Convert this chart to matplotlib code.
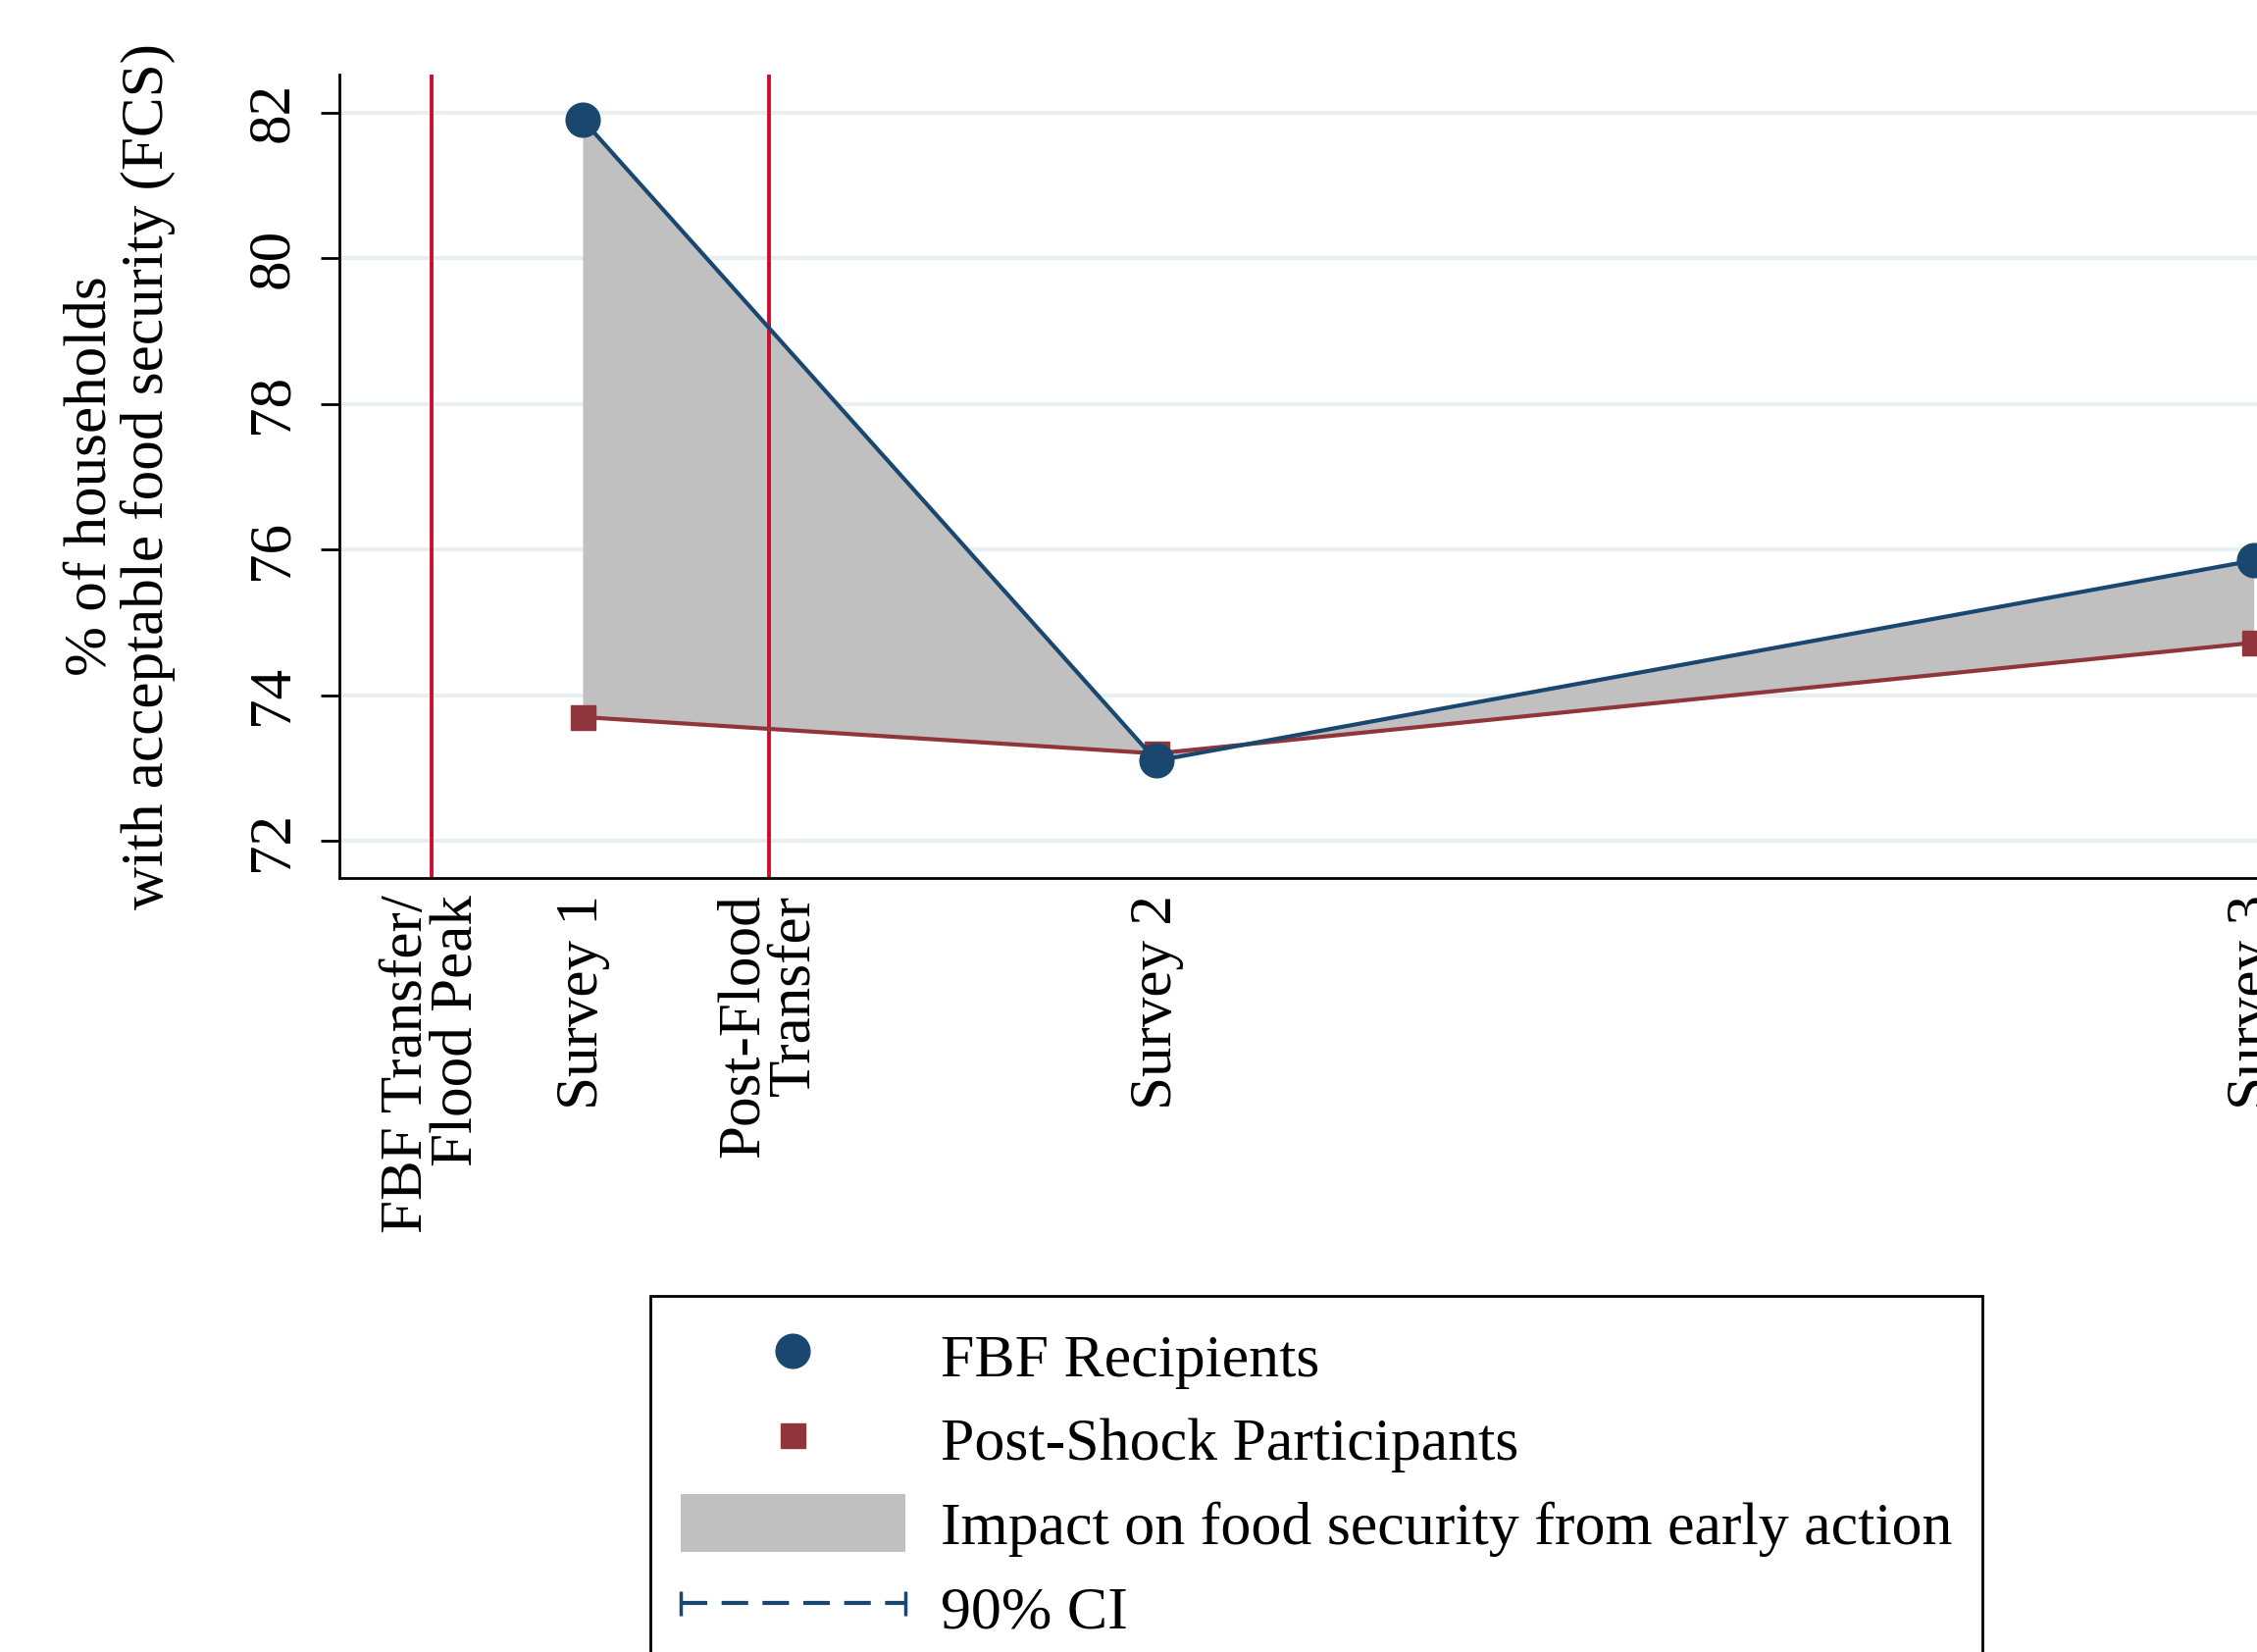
import matplotlib
matplotlib.use("Agg")
import matplotlib.pyplot as plt
from matplotlib.lines import Line2D
from matplotlib.patches import Patch
from matplotlib.legend_handler import HandlerLine2D

plt.rcParams['font.family'] = ['Liberation Serif', 'DejaVu Serif']

# Timeline (approx. days after FBF transfer)
event_labels = ["FBF Transfer/\nFlood Peak", "Survey 1", "Post-Flood\nTransfer", "Survey 2", "Survey 3"]
event_days = [0, 21, 47, 101, 254]
transfer_days = [0, 47]

survey_days = [21, 101, 254]
fbf_recipients = [81.9, 73.1, 75.85]
post_shock = [73.7, 73.2, 74.72]

yticks = [72, 74, 76, 78, 80, 82]

navy = '#1a476f'
maroon = '#90353b'
red = '#c8102e'
gray = '#c0c0c0'
FS = 44

fig = plt.figure(figsize=(23.01, 16.84), dpi=100)
ax = fig.add_axes([0.1504, 0.4685, 0.899, 0.4864])

ax.fill_between(survey_days, fbf_recipients, post_shock, color=gray, lw=0, zorder=1)
for d in transfer_days:
    ax.axvline(d, color=red, lw=2.8, zorder=2)
ax.plot(survey_days, post_shock, color=maroon, lw=3.0, marker='s', ms=18, zorder=3)
ax.plot(survey_days, fbf_recipients, color=navy, lw=3.0, marker='o', ms=25, zorder=4)

ax.set_xlim(-12.9, 270)
ax.set_ylim(71.49, 82.52)
ax.set_yticks(yticks)
ax.set_yticklabels([str(v) for v in yticks], fontsize=FS, rotation=90, va='center')
ax.set_xticks(event_days)
ax.set_xticklabels(event_labels, fontsize=FS, rotation=90, ha='center', va='top',
                   multialignment='right', linespacing=0.9)
ax.tick_params(axis='x', length=0, pad=12)
ax.tick_params(axis='y', length=14, width=2, pad=15)
ax.yaxis.grid(True, color='#e8eff1', lw=3)
ax.set_axisbelow(True)
for s in ['top', 'right']:
    ax.spines[s].set_visible(False)
for s in ['left', 'bottom']:
    ax.spines[s].set_linewidth(2)

fig.text(0.0532, 0.7117, "% of households\nwith acceptable food security (FCS)",
         rotation=90, ha='center', va='center', fontsize=FS, multialignment='center',
         linespacing=1.05)

h_fbf = Line2D([], [], color=navy, marker='o', ms=25, ls='none')
h_post = Line2D([], [], color=maroon, marker='s', ms=18, ls='none')
h_fill = Patch(facecolor=gray, edgecolor='none')
h_ci = Line2D([], [], color=navy, ls=(0, (6.5, 3.5)), lw=3, marker='|', ms=18, mew=2.5)
leg = fig.legend([h_fbf, h_post, h_fill, h_ci],
                 ["FBF Recipients", "Post-Shock Participants",
                  "Impact on food security from early action", "90% CI"],
                 loc='upper left', bbox_to_anchor=(0.288, 0.2156), fontsize=44.6,
                 frameon=True, fancybox=False, edgecolor='black', framealpha=1,
                 handlelength=3.7, handleheight=1.1, handletextpad=0.58,
                 borderpad=0.5, labelspacing=0.35, borderaxespad=0,
                 handler_map={h_fbf: HandlerLine2D(numpoints=1),
                              h_post: HandlerLine2D(numpoints=1),
                              h_ci: HandlerLine2D(numpoints=2, marker_pad=0.0)})
leg.get_frame().set_linewidth(2)

fig.savefig("out.png", dpi=100)
